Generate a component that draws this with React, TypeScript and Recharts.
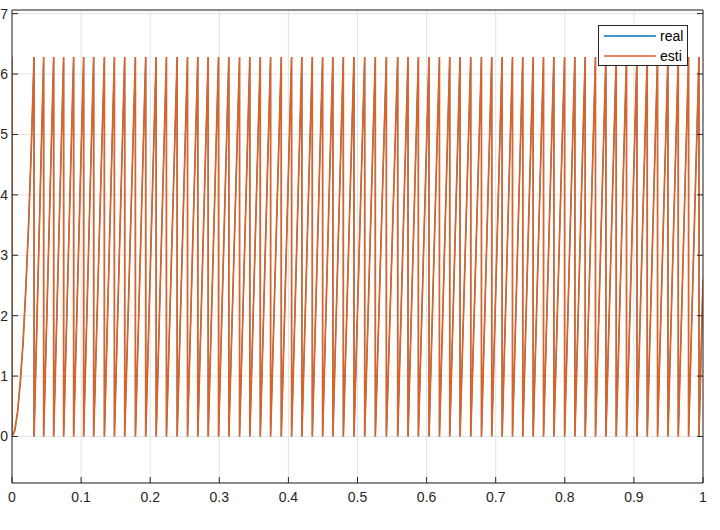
import React from 'react';
import { LineChart, Line, XAxis, YAxis, CartesianGrid, Legend } from 'recharts';

const W = 720;
const H = 530;
const FONT = '"Liberation Sans", Arial, Helvetica, sans-serif';
const INK = '#262626';
const TICK_LEN = 6;

// electrical angle wraps at 2*pi
const TOP = 6.2832;

// start-up ramp, before the first wrap
const rampTimes = [0, 0.004, 0.008, 0.012, 0.016, 0.02, 0.024, 0.028];
const rampValues = [0, 0.1, 0.4, 0.9, 1.55, 2.45, 3.5, 4.8];

// esti starts wrapped at the top
const estiStartValue = 6.28;

// times where the angle drops from 2*pi back to 0
const wrapTimes = [
  0.0319, 0.0458, 0.0603, 0.0747, 0.0892, 0.1037, 0.1182, 0.1337, 0.1482, 0.1631,
  0.1786, 0.1935, 0.2086, 0.2235, 0.239, 0.254, 0.2689, 0.2839, 0.2989, 0.3138,
  0.3293, 0.3442, 0.3593, 0.3742, 0.3897, 0.4046, 0.4195, 0.4346, 0.4495, 0.4644,
  0.4795, 0.4949, 0.5104, 0.5258, 0.5418, 0.5582, 0.5731, 0.5881, 0.6035, 0.6186,
  0.6335, 0.6484, 0.6639, 0.6794, 0.6943, 0.7093, 0.7243, 0.7392, 0.7542, 0.7692,
  0.7842, 0.7997, 0.8146, 0.8295, 0.8444, 0.8595, 0.8744, 0.8893, 0.9044, 0.9193,
  0.9342, 0.9493, 0.9642, 0.9791, 0.9942,
];

const endTime = 1;
const endValue = 2.6;

const xTicks = [0, 0.1, 0.2, 0.3, 0.4, 0.5, 0.6, 0.7, 0.8, 0.9, 1];
const yTicks = [0, 1, 2, 3, 4, 5, 6, 7];

const seriesNames = ['real', 'esti'];
const seriesColors = ['#0072BD', '#D9642A'];

type Pt = { t: number; v: number };

const buildSeries = (start: Pt[]): Pt[] => {
  const pts = [...start];
  wrapTimes.forEach((t) => {
    pts.push({ t, v: TOP });
    pts.push({ t, v: 0 });
  });
  pts.push({ t: endTime, v: endValue });
  return pts;
};

const ramp: Pt[] = rampTimes.map((t, i) => ({ t, v: rampValues[i] }));
const realData = buildSeries(ramp);
const estiData = buildSeries([{ t: 0, v: estiStartValue }, ...ramp]);

const BottomTick = ({ x, y, payload }: any) => (
  <g>
    <line x1={x} x2={x} y1={y} y2={y - TICK_LEN} stroke={INK} strokeWidth={1} />
    <text x={x} y={y + 19} textAnchor="middle" fill={INK} fontSize={14} fontFamily={FONT}>
      {payload.value}
    </text>
  </g>
);

const TopTick = ({ x, y }: any) => (
  <line x1={x} x2={x} y1={y} y2={y + TICK_LEN} stroke={INK} strokeWidth={1} />
);

const LeftTick = ({ x, y, payload }: any) => (
  <g>
    <line x1={x} x2={x + TICK_LEN} y1={y} y2={y} stroke={INK} strokeWidth={1} />
    <text x={x - 4} y={y + 5} textAnchor="end" fill={INK} fontSize={14} fontFamily={FONT}>
      {payload.value}
    </text>
  </g>
);

const RightTick = ({ x, y }: any) => (
  <line x1={x} x2={x - TICK_LEN} y1={y} y2={y} stroke={INK} strokeWidth={1} />
);

const LegendBox = () => (
  <div
    style={{
      position: 'relative',
      width: 88,
      height: 39,
      border: `1px solid ${INK}`,
      background: '#fff',
      fontFamily: FONT,
      fontSize: 14,
      color: '#000',
    }}
  >
    {seriesNames.map((name, i) => (
      <div key={name} style={{ position: 'absolute', left: 0, top: i * 20, height: 20, width: 88 }}>
        <svg width={54} height={20} style={{ position: 'absolute', left: 4, top: 0 }}>
          <line x1={1} x2={53} y1={10} y2={10} stroke={seriesColors[i]} strokeWidth={1.4} />
        </svg>
        <span style={{ position: 'absolute', left: 61, top: 0, lineHeight: '20px' }}>{name}</span>
      </div>
    ))}
  </div>
);

export default function App() {
  return (
    <div style={{ position: 'absolute', left: 0, top: 0, width: W, height: H, background: '#fff' }}>
      <LineChart width={W} height={H} margin={{ top: 0, right: 0, bottom: 0, left: 0 }}>
        <CartesianGrid stroke="#e3e3e3" strokeWidth={1} />
        <XAxis
          dataKey="t"
          type="number"
          domain={[0, 1]}
          ticks={xTicks}
          interval={0}
          allowDataOverflow
          height={47}
          tickSize={0}
          tickMargin={0}
          axisLine={{ stroke: INK }}
          tick={<BottomTick />}
        />
        <XAxis
          xAxisId="top"
          orientation="top"
          type="number"
          domain={[0, 1]}
          ticks={xTicks}
          interval={0}
          allowDataOverflow
          height={10}
          tickSize={0}
          tickMargin={0}
          axisLine={{ stroke: INK }}
          tick={<TopTick />}
        />
        <YAxis
          type="number"
          domain={[-0.77, 7.06]}
          ticks={yTicks}
          interval={0}
          allowDataOverflow
          width={12}
          tickSize={0}
          tickMargin={0}
          axisLine={{ stroke: INK }}
          tick={<LeftTick />}
        />
        <YAxis
          yAxisId="right"
          orientation="right"
          type="number"
          domain={[-0.77, 7.06]}
          ticks={yTicks}
          interval={0}
          allowDataOverflow
          width={17}
          tickSize={0}
          tickMargin={0}
          axisLine={{ stroke: INK }}
          tick={<RightTick />}
        />
        <Line
          data={realData}
          dataKey="v"
          name={seriesNames[0]}
          type="linear"
          stroke={seriesColors[0]}
          strokeWidth={1.1}
          dot={false}
          isAnimationActive={false}
        />
        <Line
          data={estiData}
          dataKey="v"
          name={seriesNames[1]}
          type="linear"
          stroke={seriesColors[1]}
          strokeWidth={1.7}
          dot={false}
          isAnimationActive={false}
        />
        <Legend
          layout="vertical"
          align="center"
          verticalAlign="middle"
          wrapperStyle={{ left: 598, top: 25, width: 90 }}
          content={<LegendBox />}
        />
      </LineChart>
    </div>
  );
}
